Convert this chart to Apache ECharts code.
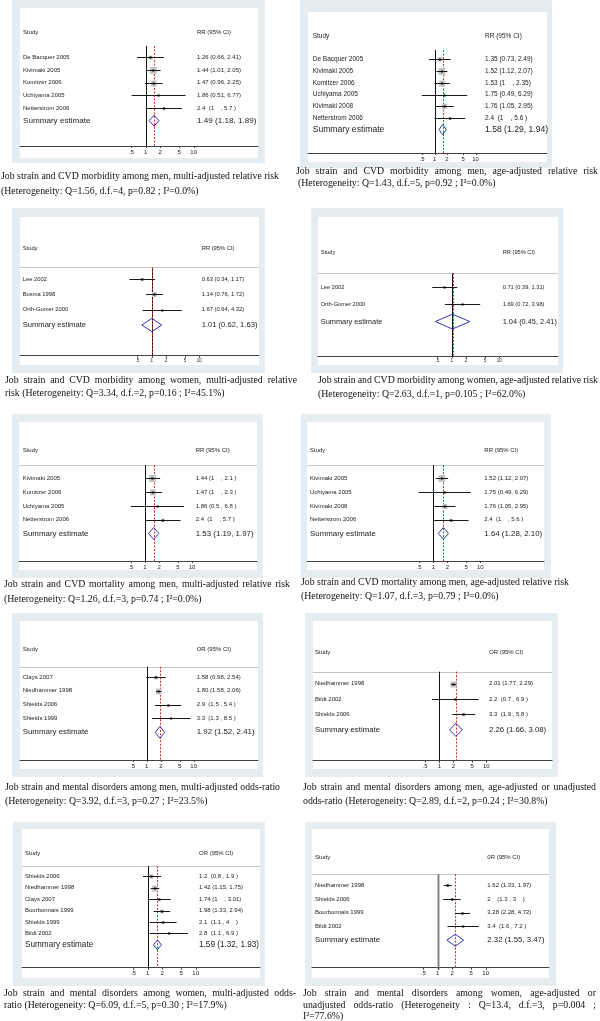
<!DOCTYPE html>
<html><head><meta charset="utf-8">
<script src="https://cdn.jsdelivr.net/npm/echarts@6/dist/echarts.min.js"></script>
<style>html,body{margin:0;padding:0;background:#fff}#c{width:600px;height:1021px}</style>
</head><body><div id="c"></div>
<script>
// ---------- DATA ----------
const tickValues = [0.5, 1, 2, 5, 10];
const tickLabels = ['.5', '1', '2', '5', '10'];

// Panel 1: CVD morbidity, men, multi-adjusted RR
const p1Names = ['De Bacquer 2005', 'Kivimaki 2005', 'Komitzer 2006', 'Uchiyama 2005', 'Netterstrom 2006'];
const p1Est = [1.26, 1.44, 1.47, 1.86, 2.4];
const p1Lo = [0.66, 1.01, 0.96, 0.51, 1];
const p1Hi = [2.41, 2.05, 2.25, 6.77, 5.7];
const p1Wt = [13, 40, 30, 3, 7];
const p1Text = ['1.26 (0.66, 2.41)', '1.44 (1.01, 2.05)', '1.47 (0.96, 2.25)', '1.86 (0.51, 6.77)', '2.4  (1    , 5.7 )'];
const p1Sum = [1.49, 1.18, 1.89];
const p1SumText = '1.49 (1.18, 1.89)';
const p1Caption = ['Job strain and CVD morbidity among men, multi-adjusted relative risk', '(Heterogeneity: Q=1.56, d.f.=4, p=0.82 ; I²=0.0%)'];

// Panel 2: CVD morbidity, men, age-adjusted RR
const p2Names = ['De Bacquer 2005', 'Kivimaki 2005', 'Komitzer 2006', 'Uchiyama 2005', 'Kivimaki 2008', 'Netterstrom 2006'];
const p2Est = [1.35, 1.52, 1.53, 1.75, 1.76, 2.4];
const p2Lo = [0.73, 1.12, 1, 0.49, 1.05, 1];
const p2Hi = [2.49, 2.07, 2.35, 6.29, 2.95, 5.6];
const p2Wt = [17, 40, 30, 3, 21, 7];
const p2Text = ['1.35 (0.73, 2.49)', '1.52 (1.12, 2.07)', '1.53 (1    , 2.35)', '1.75 (0.49, 6.29)', '1.76 (1.05, 2.95)', '2.4  (1    , 5.6 )'];
const p2Sum = [1.58, 1.29, 1.94];
const p2SumText = '1.58 (1.29, 1.94)';
const p2Caption = ['Job strain and CVD morbidity among men, age-adjusted relative risk', '(Heterogeneity: Q=1.43, d.f.=5, p=0.92 ; I²=0.0%)'];

// Panel 3: CVD morbidity, women, multi-adjusted RR
const p3Names = ['Lee 2002', 'Bosma 1998', 'Orth-Gomer 2000'];
const p3Est = [0.63, 1.14, 1.67];
const p3Lo = [0.34, 0.76, 0.64];
const p3Hi = [1.17, 1.72, 4.32];
const p3Wt = [8, 21, 3];
const p3Text = ['0.63 (0.34, 1.17)', '1.14 (0.76, 1.72)', '1.67 (0.64, 4.32)'];
const p3Sum = [1.01, 0.62, 1.63];
const p3SumText = '1.01 (0.62, 1.63)';
const p3Caption = ['Job strain and CVD morbidity among women, multi-adjusted relative', 'risk (Heterogeneity: Q=3.34, d.f.=2, p=0.16 ; I²=45.1%)'];

// Panel 4: CVD morbidity, women, age-adjusted RR
const p4Names = ['Lee 2002', 'Orth-Gomer 2000'];
const p4Est = [0.71, 1.69];
const p4Lo = [0.39, 0.72];
const p4Hi = [1.31, 3.98];
const p4Wt = [3, 3];
const p4Text = ['0.71 (0.39, 1.31)', '1.69 (0.72, 3.98)'];
const p4Sum = [1.04, 0.45, 2.41];
const p4SumText = '1.04 (0.45, 2.41)';
const p4Caption = ['Job strain and CVD morbidity among women, age-adjusted relative risk', '(Heterogeneity: Q=2.63, d.f.=1, p=0.105 ; I²=62.0%)'];

// Panel 5: CVD mortality, men, multi-adjusted RR
const p5Names = ['Kivimaki 2005', 'Komitzer 2006', 'Uchiyama 2005', 'Netterstrom 2006'];
const p5Est = [1.44, 1.47, 1.86, 2.4];
const p5Lo = [1, 1, 0.5, 1];
const p5Hi = [2.1, 2.3, 6.8, 5.7];
const p5Wt = [40, 30, 3, 7];
const p5Text = ['1.44 (1    , 2.1 )', '1.47 (1    , 2.3 )', '1.86 (0.5 , 6.8 )', '2.4  (1    , 5.7 )'];
const p5Sum = [1.53, 1.19, 1.97];
const p5SumText = '1.53 (1.19, 1.97)';
const p5Caption = ['Job strain and CVD mortality among men, multi-adjusted relative risk', '(Heterogeneity: Q=1.26, d.f.=3, p=0.74 ; I²=0.0%)'];

// Panel 6: CVD mortality, men, age-adjusted RR
const p6Names = ['Kivimaki 2005', 'Uchiyama 2005', 'Kivimaki 2008', 'Netterstrom 2006'];
const p6Est = [1.52, 1.75, 1.76, 2.4];
const p6Lo = [1.12, 0.49, 1.05, 1];
const p6Hi = [2.07, 6.29, 2.95, 5.6];
const p6Wt = [40, 3, 21, 7];
const p6Text = ['1.52 (1.12, 2.07)', '1.75 (0.49, 6.29)', '1.76 (1.05, 2.95)', '2.4  (1    , 5.6 )'];
const p6Sum = [1.64, 1.28, 2.10];
const p6SumText = '1.64 (1.28, 2.10)';
const p6Caption = ['Job strain and CVD mortality among men, age-adjusted relative risk', '(Heterogeneity: Q=1.07, d.f.=3, p=0.79 ; I²=0.0%)'];

// Panel 7: mental disorders, men, multi-adjusted OR
const p7Names = ['Clays 2007', 'Niedhammer 1998', 'Shields 2006', 'Shields 1999'];
const p7Est = [1.58, 1.80, 2.9, 3.3];
const p7Lo = [0.98, 1.58, 1.5, 1.3];
const p7Hi = [2.54, 2.06, 5.4, 8.5];
const p7Wt = [13, 30, 5, 3];
const p7Text = ['1.58 (0.98, 2.54)', '1.80 (1.58, 2.06)', '2.9  (1.5 , 5.4 )', '3.3  (1.3 , 8.5 )'];
const p7Sum = [1.92, 1.52, 2.41];
const p7SumText = '1.92 (1.52, 2.41)';
const p7Caption = ['Job strain and mental disorders among men, multi-adjusted odds-ratio', '(Heterogeneity: Q=3.92, d.f.=3, p=0.27 ; I²=23.5%)'];

// Panel 8: mental disorders, men, age-adjusted or unadjusted OR
const p8Names = ['Niedhammer 1998', 'Bildt 2002', 'Shields 2006'];
const p8Est = [2.01, 2.2, 3.3];
const p8Lo = [1.77, 0.7, 1.9];
const p8Hi = [2.29, 6.9, 5.8];
const p8Wt = [30, 3, 10];
const p8Text = ['2.01 (1.77, 2.29)', '2.2  (0.7 , 6.9 )', '3.3  (1.9 , 5.8 )'];
const p8Sum = [2.26, 1.66, 3.08];
const p8SumText = '2.26 (1.66, 3.08)';
const p8Caption = ['Job strain and mental disorders among men, age-adjusted or unadjusted', 'odds-ratio (Heterogeneity: Q=2.89, d.f.=2, p=0.24 ; I²=30.8%)'];

// Panel 9: mental disorders, women, multi-adjusted OR
const p9Names = ['Shields 2006', 'Niedhammer 1998', 'Clays 2007', 'Bourbonnais 1999', 'Shields 1999', 'Bildt 2002'];
const p9Est = [1.2, 1.42, 1.74, 1.98, 2.1, 2.8];
const p9Lo = [0.8, 1.15, 1, 1.33, 1.1, 1.1];
const p9Hi = [1.9, 1.75, 3.01, 2.94, 4, 6.9];
const p9Wt = [13, 30, 7, 13, 7, 3];
const p9Text = ['1.2  (0.8 , 1.9 )', '1.42 (1.15, 1.75)', '1.74 (1    , 3.01)', '1.98 (1.33, 2.94)', '2.1  (1.1 , 4    )', '2.8  (1.1 , 6.9 )'];
const p9Sum = [1.59, 1.32, 1.93];
const p9SumText = '1.59 (1.32, 1.93)';
const p9Caption = ['Job strain and mental disorders among women, multi-adjusted odds-', 'ratio (Heterogeneity: Q=6.09, d.f.=5, p=0.30 ; I²=17.9%)'];

// Panel 10: mental disorders, women, age-adjusted or unadjusted OR
const p10Names = ['Niedhammer 1998', 'Shields 2006', 'Bourbonnais 1999', 'Bildt 2002'];
const p10Est = [1.62, 2, 3.28, 3.4];
const p10Lo = [1.33, 1.3, 2.28, 1.6];
const p10Hi = [1.97, 3, 4.72, 7.2];
const p10Wt = [7, 7, 7, 3];
const p10Text = ['1.62 (1.33, 1.97)', '2    (1.3 , 3    )', '3.28 (2.28, 4.72)', '3.4  (1.6 , 7.2 )'];
const p10Sum = [2.32, 1.55, 3.47];
const p10SumText = '2.32 (1.55, 3.47)';
const p10Caption = ['Job strain and mental disorders among women, age-adjusted or', 'unadjusted odds-ratio (Heterogeneity : Q=13.4, d.f.=3, p=0.004 ;', 'I²=77.6%)'];

const panels = [
  {names: p1Names, est: p1Est, lo: p1Lo, hi: p1Hi, wt: p1Wt, text: p1Text, sum: p1Sum, sumText: p1SumText, head: 'RR (95% CI)', caption: p1Caption},
  {names: p2Names, est: p2Est, lo: p2Lo, hi: p2Hi, wt: p2Wt, text: p2Text, sum: p2Sum, sumText: p2SumText, head: 'RR (95% CI)', caption: p2Caption},
  {names: p3Names, est: p3Est, lo: p3Lo, hi: p3Hi, wt: p3Wt, text: p3Text, sum: p3Sum, sumText: p3SumText, head: 'RR (95% CI)', caption: p3Caption},
  {names: p4Names, est: p4Est, lo: p4Lo, hi: p4Hi, wt: p4Wt, text: p4Text, sum: p4Sum, sumText: p4SumText, head: 'RR (95% CI)', caption: p4Caption},
  {names: p5Names, est: p5Est, lo: p5Lo, hi: p5Hi, wt: p5Wt, text: p5Text, sum: p5Sum, sumText: p5SumText, head: 'RR (95% CI)', caption: p5Caption},
  {names: p6Names, est: p6Est, lo: p6Lo, hi: p6Hi, wt: p6Wt, text: p6Text, sum: p6Sum, sumText: p6SumText, head: 'RR (95% CI)', caption: p6Caption},
  {names: p7Names, est: p7Est, lo: p7Lo, hi: p7Hi, wt: p7Wt, text: p7Text, sum: p7Sum, sumText: p7SumText, head: 'OR (95% CI)', caption: p7Caption},
  {names: p8Names, est: p8Est, lo: p8Lo, hi: p8Hi, wt: p8Wt, text: p8Text, sum: p8Sum, sumText: p8SumText, head: 'OR (95% CI)', caption: p8Caption},
  {names: p9Names, est: p9Est, lo: p9Lo, hi: p9Hi, wt: p9Wt, text: p9Text, sum: p9Sum, sumText: p9SumText, head: 'OR (95% CI)', caption: p9Caption},
  {names: p10Names, est: p10Est, lo: p10Lo, hi: p10Hi, wt: p10Wt, text: p10Text, sum: p10Sum, sumText: p10SumText, head: '0R (95% CI)', caption: p10Caption}
];

// ---------- LAYOUT (pixels) ----------
const layout = [
  {frame: [12, -2, 253, 165], inner: [20, 8, 238, 150], head: 32, axis: 146, one: 145.7, dec: 48, lx: 23, tx: 197, fs: 6, fsS: 8.1, fsT: 6, top: 1.1, div: false},
  {frame: [300, -2, 252, 170], inner: [308, 12, 239, 150], head: 36, axis: 153, one: 434.5, dec: 41, lx: 312.7, tx: 485, fs: 6.5, fsS: 8.6, fsT: 6, top: 1.2, div: false},
  {frame: [12, 208, 253, 165], inner: [20, 217, 239, 148], head: 248.3, axis: 355.7, one: 151.7, dec: 47.5, lx: 22.7, tx: 201.7, fs: 5.8, fsS: 7.6, fsT: 4.5, top: 1.24, div: true},
  {frame: [311, 208, 252, 165], inner: [318, 217, 240, 148], head: 252.7, axis: 356, one: 451.7, dec: 47.5, lx: 320.7, tx: 502.7, fs: 5.7, fsS: 7.4, fsT: 4.5, top: 1.2, div: true},
  {frame: [12, 414, 251, 164], inner: [19, 422, 238, 148], head: 450.7, axis: 561, one: 145, dec: 47, lx: 22.7, tx: 195.7, fs: 6, fsS: 7.9, fsT: 6, top: 1.04, div: true},
  {frame: [301, 414, 250, 164], inner: [307, 422, 237, 148], head: 450.7, axis: 561, one: 433.3, dec: 47, lx: 310, tx: 484.3, fs: 6, fsS: 7.9, fsT: 6, top: 1.04, div: true},
  {frame: [12, 613, 251, 164], inner: [20, 621, 238, 148], head: 649.3, axis: 760, one: 146.7, dec: 47, lx: 22.7, tx: 196.7, fs: 6, fsS: 7.9, fsT: 6, top: 1.26, div: true},
  {frame: [305, 613, 253, 164], inner: [313, 621, 239, 148], head: 652.7, axis: 760.7, one: 439.3, dec: 47, lx: 315, tx: 489, fs: 6, fsS: 7.8, fsT: 6, top: 1.23, div: true},
  {frame: [13, 822, 252, 164], inner: [22, 829, 238, 149], head: 853.3, axis: 967.7, one: 147.7, dec: 48, lx: 25, tx: 199, fs: 6, fsS: 8.2, fsT: 6, top: 1.11, div: true},
  {frame: [305, 822, 251, 164], inner: [312, 829, 237, 149], head: 857.7, axis: 967.7, one: 437.7, dec: 48, lx: 315, tx: 487.3, fs: 6, fsS: 7.8, fsT: 6, top: 1.2, div: true, vw: 1.8, vc: '#777'}
];
// caption line boxes: [xStart, xEnd (null = natural width, last line), yMiddle]
const captionBoxes = [
  [[1, 279, 176.7], [1, null, 191.7]],
  [[296, 598, 171], [298, null, 183.3]],
  [[5, 297, 380], [5, null, 393.3]],
  [[318, 598, 380.7], [318, null, 394]],
  [[4, 290, 584], [4, null, 599]],
  [[301, 569, 582.7], [301, null, 596.7]],
  [[5, 280, 787.7], [5, null, 801.7]],
  [[303, 596, 787.7], [303, null, 801.7]],
  [[4, 296, 993.7], [4, null, 1005.3]],
  [[303, 596, 993.3], [303, 596, 1005], [303, null, 1016]]
];

const SANS = '"Liberation Sans", Arial, sans-serif';
const SERIF_FONT = '9.8px "Liberation Serif", "Times New Roman", serif';
const mctx = document.createElement('canvas').getContext('2d');
mctx.font = SERIF_FONT;

const chart = echarts.init(document.getElementById('c'), null, {renderer: 'canvas', width: 600, height: 1021});
const grids = [], xAxes = [], yAxes = [], series = [], gfx = [];

panels.forEach((P, i) => {
  const L = layout[i];
  const n = P.names.length;
  const rows = n + 4;
  const x0 = L.inner[0], x1 = L.inner[0] + L.inner[2];
  const rowPx = (L.axis - L.head) / rows;

  gfx.push({type: 'rect', z: -2, shape: {x: L.frame[0], y: L.frame[1], width: L.frame[2], height: L.frame[3]}, style: {fill: '#e6edf1'}});
  gfx.push({type: 'rect', z: -1, shape: {x: L.inner[0], y: L.inner[1], width: L.inner[2], height: L.inner[3]}, style: {fill: '#ffffff'}});
  if (L.div) {
    const dy = Math.round(L.head + L.top * rowPx) + 0.5;
    gfx.push({type: 'line', z: -1, shape: {x1: x0, y1: dy, x2: x1, y2: dy}, style: {stroke: '#c4c4c4', lineWidth: 1}});
  }

  grids.push({left: x0, top: L.head, width: L.inner[2], height: L.axis - L.head, containLabel: false, outerBoundsMode: 'none'});
  xAxes.push({
    gridIndex: i, type: 'log', logBase: 10,
    min: Math.pow(10, (x0 - L.one) / L.dec), max: Math.pow(10, (x1 - L.one) / L.dec),
    axisLine: {show: true, onZero: false, lineStyle: {color: '#444', width: 1}},
    axisTick: {show: false}, axisLabel: {show: false}, splitLine: {show: false}, minorTick: {show: false}
  });
  yAxes.push({gridIndex: i, type: 'value', inverse: true, min: 0, max: rows, show: false, splitLine: {show: false}});

  // reference lines: null effect (1) and summary estimate
  series.push({
    type: 'custom', xAxisIndex: i, yAxisIndex: i, silent: true, z: 2,
    data: [[1, L.top], [P.sum[0], L.top]],
    renderItem: (params, api) => {
      const xv = api.value(0);
      const a = api.coord([xv, api.value(1)]);
      const b = api.coord([xv, rows]);
      const x = Math.round(a[0]) + 0.5;
      if (params.dataIndex === 0) {
        return {type: 'line', shape: {x1: x, y1: a[1], x2: x, y2: b[1] + 2}, style: {stroke: L.vc || '#111', lineWidth: L.vw || 1}};
      }
      return {type: 'line', shape: {x1: x, y1: a[1], x2: x, y2: b[1]}, style: {stroke: '#cc3333', lineWidth: 1, lineDash: [2, 1.5]}};
    }
  });

  // individual studies
  series.push({
    type: 'custom', xAxisIndex: i, yAxisIndex: i, silent: true, z: 3,
    encode: {x: [0, 1, 2], y: 3},
    data: P.est.map((e, k) => [e, P.lo[k], P.hi[k], k + 2, P.wt[k]]),
    renderItem: (params, api) => {
      const r = api.value(3);
      const c = api.coord([api.value(0), r]);
      const lo = api.coord([api.value(1), r]);
      const hi = api.coord([api.value(2), r]);
      const y = Math.round(c[1]) + 0.5;
      const s = 1.1 * Math.sqrt(api.value(4));
      return {type: 'group', children: [
        {type: 'rect', shape: {x: c[0] - s / 2, y: y - s / 2, width: s, height: s}, style: {fill: '#c6c6c6'}},
        {type: 'line', shape: {x1: lo[0], y1: y, x2: hi[0], y2: y}, style: {stroke: '#1a1a1a', lineWidth: 1}},
        {type: 'rect', shape: {x: c[0] - 1, y: y - 1, width: 2, height: 2}, style: {fill: '#000'}}
      ]};
    }
  });

  // pooled estimate diamond
  series.push({
    type: 'custom', xAxisIndex: i, yAxisIndex: i, silent: true, z: 4,
    encode: {x: [0, 1, 2], y: 3},
    data: [[P.sum[0], P.sum[1], P.sum[2], n + 2]],
    renderItem: (params, api) => {
      const e = api.value(0), lo = api.value(1), hi = api.value(2), r = api.value(3);
      const pts = [api.coord([lo, r]), api.coord([e, r - 0.43]), api.coord([hi, r]), api.coord([e, r + 0.43])];
      return {type: 'polygon', shape: {points: pts}, style: {fill: 'rgba(255,255,255,0)', stroke: '#3434b0', lineWidth: 1}};
    }
  });

  // text columns (header, study rows, summary)
  const rowNames = ['Study'].concat(P.names, ['Summary estimate']);
  const rowTexts = [P.head].concat(P.text, [P.sumText]);
  const rowIdx = [0].concat(P.names.map((_, k) => k + 2), [n + 2]);
  series.push({
    type: 'custom', xAxisIndex: i, yAxisIndex: i, silent: true, z: 5,
    data: rowIdx.map(r => [1, r]),
    renderItem: (params, api) => {
      const k = params.dataIndex;
      const y = api.coord([1, api.value(1)])[1];
      const big = k === rowIdx.length - 1;
      const fsz = big ? L.fsS : L.fs;
      return {type: 'group', children: [
        {type: 'text', x: L.lx, y: y, style: {text: rowNames[k], fontSize: fsz, fontFamily: SANS, fill: '#222', align: 'left', verticalAlign: 'middle'}},
        {type: 'text', x: L.tx, y: y, style: {text: rowTexts[k], fontSize: fsz, fontFamily: SANS, fill: '#222', align: 'left', verticalAlign: 'middle'}}
      ]};
    }
  });

  // x ticks and labels
  series.push({
    type: 'custom', xAxisIndex: i, yAxisIndex: i, silent: true, z: 5,
    data: tickValues.map(v => [v, rows]),
    renderItem: (params, api) => {
      const p = api.coord([api.value(0), api.value(1)]);
      const x = Math.round(p[0]) + 0.5;
      return {type: 'group', children: [
        {type: 'line', shape: {x1: x, y1: p[1], x2: x, y2: p[1] + 2}, style: {stroke: '#444', lineWidth: 1}},
        {type: 'text', x: p[0], y: p[1] + (L.fsT > 5 ? 6 : 5), style: {text: tickLabels[params.dataIndex], fontSize: L.fsT, fontFamily: SANS, fill: '#222', align: 'center', verticalAlign: 'middle'}}
      ]};
    }
  });

  // captions (justified lines are spread word by word; last lines keep natural width)
  P.caption.forEach((line, li) => {
    const [cx0, cx1, cy] = captionBoxes[i][li];
    const words = line.split(' ');
    if (cx1 === null || words.length < 2) {
      gfx.push({type: 'text', x: cx0, y: cy, style: {text: line, font: SERIF_FONT, fill: '#111', align: 'left', verticalAlign: 'middle'}});
      return;
    }
    const ws = words.map(w => mctx.measureText(w).width);
    const sum = ws.reduce((a, b) => a + b, 0);
    const minGap = mctx.measureText(' ').width * 0.6;
    const gap = Math.max(minGap, (cx1 - cx0 - sum) / (words.length - 1));
    let x = cx0;
    words.forEach((w, wi) => {
      gfx.push({type: 'text', x: x, y: cy, style: {text: w, font: SERIF_FONT, fill: '#111', align: 'left', verticalAlign: 'middle'}});
      x += ws[wi] + gap;
    });
  });
});

chart.setOption({
  animation: false,
  backgroundColor: '#ffffff',
  grid: grids, xAxis: xAxes, yAxis: yAxes, series: series,
  graphic: {elements: gfx}
});
</script></body></html>
